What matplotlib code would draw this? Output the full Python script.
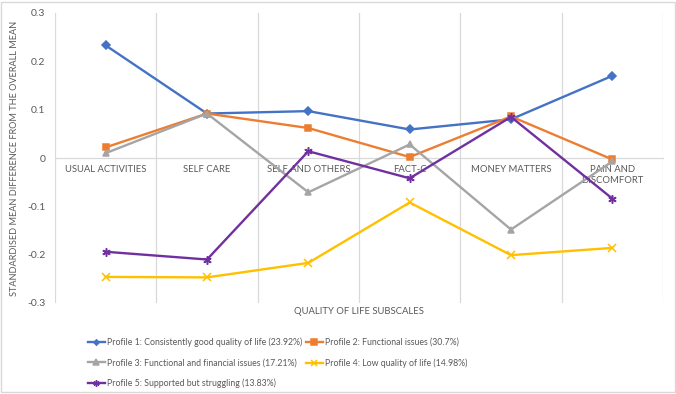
import matplotlib
matplotlib.use("Agg")
import matplotlib.pyplot as plt
from matplotlib.patches import Rectangle

plt.rcParams["font.family"] = ["Lato", "DejaVu Sans"]

# ─── Data ────────────────────────────────────────────────────────────────────

SUBSCALES = ["USUAL ACTIVITIES", "SELF CARE", "SELF AND OTHERS", "FACT-C",
             "MONEY MATTERS", "PAIN AND\nDISCOMFORT"]

PROFILE_1 = [0.233, 0.092, 0.097, 0.059, 0.080, 0.170]
PROFILE_2 = [0.022, 0.092, 0.062, 0.002, 0.086, -0.003]
PROFILE_3 = [0.010, 0.092, -0.071, 0.028, -0.148, -0.007]
PROFILE_4 = [-0.246, -0.247, -0.217, -0.092, -0.201, -0.186]
PROFILE_5 = [-0.194, -0.210, 0.014, -0.042, 0.085, -0.084]

LABELS = [
    "Profile 1: Consistently good quality of life (23.92%)",
    "Profile 2: Functional issues (30.7%)",
    "Profile 3: Functional and financial issues (17.21%)",
    "Profile 4: Low quality of life (14.98%)",
    "Profile 5: Supported but struggling (13.83%)",
]

Y_TICKS = [-0.3, -0.2, -0.1, 0, 0.1, 0.2, 0.3]
Y_TICK_LABELS = ["-0.3", "-0.2", "-0.1", "0", "0.1", "0.2", "0.3"]

# ─── Style ───────────────────────────────────────────────────────────────────

COLORS = ["#4472C4", "#ED7D31", "#A5A5A5", "#FFC000", "#7030A0"]
MARKERS = ["D", "s", "^", "x", (6, 2, 0)]
MSIZES = [3.6, 5, 5, 5.5, 6]
TEXT = "#595959"
GRID = "#d9d9d9"

# ─── Plot ────────────────────────────────────────────────────────────────────

fig = plt.figure(figsize=(6.76, 3.94), dpi=100)
ax = fig.add_axes([55 / 676, 1 - 303 / 394, 608 / 676, 290 / 394])

x = list(range(len(SUBSCALES)))
series = [PROFILE_1, PROFILE_2, PROFILE_3, PROFILE_4, PROFILE_5]
handles = []
for vals, col, mk, ms, lab in zip(series, COLORS, MARKERS, MSIZES, LABELS):
    h, = ax.plot(x, vals, color=col, lw=1.7, marker=mk, markersize=ms,
                 markeredgewidth=1.1, label=lab, zorder=3)
    handles.append(h)

ax.set_xlim(-0.5, len(SUBSCALES) - 0.5)
ax.set_ylim(-0.3, 0.3)

# vertical gridlines between categories
for b in range(len(SUBSCALES) + 1):
    ax.axvline(b - 0.5, color=GRID, lw=0.9, zorder=1)

for s in ["top", "right", "left"]:
    ax.spines[s].set_visible(False)
ax.spines["bottom"].set_position(("data", 0))
ax.spines["bottom"].set_color(GRID)
ax.spines["bottom"].set_linewidth(0.9)

ax.set_xticks(x)
ax.set_xticklabels(SUBSCALES, fontsize=6.8, color=TEXT, linespacing=1.3)
ax.set_yticks(Y_TICKS)
ax.set_yticklabels(Y_TICK_LABELS, fontsize=7.5, color=TEXT)
ax.tick_params(axis="x", length=0, pad=5)
ax.tick_params(axis="y", length=0, pad=7)

ax.set_ylabel("STANDARDISED MEAN DIFFERENCE FROM THE OVERALL MEAN",
              fontsize=6.6, color=TEXT, labelpad=6)
fig.text(359 / 676, 1 - 312 / 394, "QUALITY OF LIFE SUBSCALES",
         fontsize=6.8, color=TEXT, ha="center", va="center")

# legend: rows P1|P2, P3|P4, P5
order = [0, 2, 4, 1, 3]
leg = fig.legend([handles[i] for i in order], [LABELS[i] for i in order],
                 ncol=2, loc="upper left", bbox_to_anchor=(84 / 676, 1 - 334 / 394),
                 frameon=False, fontsize=6.3, handlelength=2.0, handletextpad=0.2,
                 columnspacing=0.4, labelspacing=1.3, borderaxespad=0,
                 markerscale=0.75)
for t in leg.get_texts():
    t.set_color(TEXT)

# chart border
fig.patches.append(Rectangle((0.002, 0.006), 0.996, 0.99, transform=fig.transFigure,
                             fill=False, edgecolor=GRID, lw=1.0))

fig.savefig("out.png", dpi=100)
